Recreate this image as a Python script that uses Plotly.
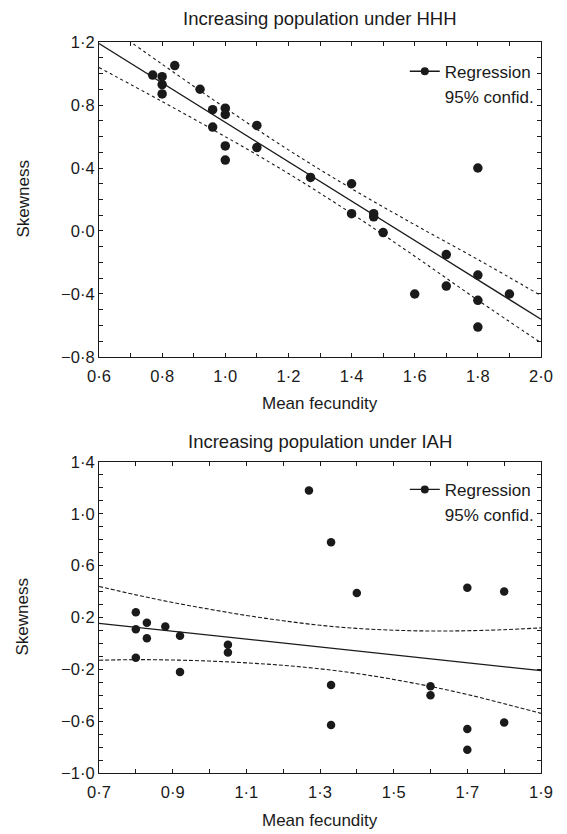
import plotly.graph_objects as go

# ---------------- Panel A: Increasing population under HHH ----------------
hhh_fecundity = [0.77, 0.80, 0.84, 0.80, 0.80, 0.92, 0.96, 1.00, 1.00, 0.96,
                 1.10, 1.00, 1.10, 1.00, 1.27, 1.40, 1.80, 1.40, 1.47, 1.47,
                 1.50, 1.70, 1.80, 1.60, 1.70, 1.80, 1.90, 1.80]
hhh_skewness = [0.99, 0.98, 1.05, 0.93, 0.87, 0.90, 0.77, 0.78, 0.74, 0.66,
                0.67, 0.54, 0.53, 0.45, 0.34, 0.30, 0.40, 0.11, 0.11, 0.09,
                -0.01, -0.15, -0.28, -0.40, -0.35, -0.44, -0.40, -0.61]
hhh_fit_x = [0.6, 2.0]
hhh_fit_y = [1.19, -0.56]
hhh_ci_x = [0.6, 0.8, 1.0, 1.2, 1.4, 1.6, 1.8, 2.0]
hhh_ci_upper = [1.342, 1.059, 0.781, 0.515, 0.269, 0.040, -0.181, -0.41]
hhh_ci_lower = [1.038, 0.822, 0.599, 0.365, 0.111, -0.160, -0.439, -0.71]

# ---------------- Panel B: Increasing population under IAH ----------------
iah_fecundity = [0.80, 0.80, 0.83, 0.83, 0.88, 0.80, 0.92, 0.92, 1.05, 1.05,
                 1.27, 1.33, 1.40, 1.70, 1.80, 1.33, 1.33, 1.60, 1.60, 1.70,
                 1.70, 1.80]
iah_skewness = [0.24, 0.11, 0.16, 0.04, 0.13, -0.11, 0.06, -0.22, -0.01, -0.07,
                1.18, 0.78, 0.39, 0.43, 0.40, -0.32, -0.63, -0.33, -0.40, -0.66,
                -0.82, -0.61]
iah_fit_x = [0.7, 1.9]
iah_fit_y = [0.155, -0.21]
iah_ci_x = [0.7, 0.8, 0.9, 1.0, 1.1, 1.2, 1.3, 1.4, 1.5, 1.6, 1.7, 1.8, 1.9]
iah_ci_upper = [0.440, 0.375, 0.316, 0.264, 0.216, 0.175, 0.140, 0.116, 0.102,
                0.096, 0.098, 0.106, 0.120]
iah_ci_lower = [-0.130, -0.125, -0.128, -0.136, -0.150, -0.169, -0.196, -0.232,
                -0.278, -0.332, -0.394, -0.465, -0.540]

# ---------------- Tick values and labels ----------------
hhh_x_ticks = [0.6, 0.7, 0.8, 0.9, 1.0, 1.1, 1.2, 1.3, 1.4, 1.5, 1.6, 1.7, 1.8, 1.9, 2.0]
hhh_x_labels = ["0·6", "", "0·8", "", "1·0", "", "1·2", "", "1·4", "", "1·6", "", "1·8", "", "2·0"]
hhh_y_ticks = [-0.8, -0.7, -0.6, -0.5, -0.4, -0.3, -0.2, -0.1, 0.0, 0.1, 0.2, 0.3,
               0.4, 0.5, 0.6, 0.7, 0.8, 0.9, 1.0, 1.1, 1.2]
hhh_y_labels = ["−0·8", "", "", "", "−0·4", "", "", "", "0·0", "", "", "",
                "0·4", "", "", "", "0·8", "", "", "", "1·2"]
iah_x_ticks = [0.7, 0.8, 0.9, 1.0, 1.1, 1.2, 1.3, 1.4, 1.5, 1.6, 1.7, 1.8, 1.9]
iah_x_labels = ["0·7", "", "0·9", "", "1·1", "", "1·3", "", "1·5", "", "1·7", "", "1·9"]
iah_y_ticks = [-1.0, -0.9, -0.8, -0.7, -0.6, -0.5, -0.4, -0.3, -0.2, -0.1, 0.0,
               0.1, 0.2, 0.3, 0.4, 0.5, 0.6, 0.7, 0.8, 0.9, 1.0, 1.1, 1.2, 1.3, 1.4]
iah_y_labels = ["−1·0", "", "", "", "−0·6", "", "", "", "−0·2", "", "", "",
                "0·2", "", "", "", "0·6", "", "", "", "1·0", "", "", "", "1·4"]

titles = ["Increasing population under HHH", "Increasing population under IAH"]
x_title = "Mean fecundity"
y_title = "Skewness"

FONT = "Liberation Sans, Arial, Helvetica, sans-serif"
INK = "#1a1a1a"

fig = go.Figure()


def add_panel(xa, ya, legend_name, fx, fy, lx, ly, cx, cu, cl, msize, dash):
    # confidence band lines
    for band in (cu, cl):
        fig.add_trace(go.Scatter(x=cx, y=band, mode="lines", line_shape="spline",
                                 line=dict(color=INK, width=1.1, dash=dash),
                                 xaxis=xa, yaxis=ya, showlegend=False, hoverinfo="skip"))
    # regression line
    fig.add_trace(go.Scatter(x=lx, y=ly, mode="lines",
                             line=dict(color=INK, width=1.3),
                             xaxis=xa, yaxis=ya, showlegend=False, hoverinfo="skip"))
    # data points
    fig.add_trace(go.Scatter(x=fx, y=fy, mode="markers",
                             marker=dict(color=INK, size=msize),
                             xaxis=xa, yaxis=ya, showlegend=False))
    # legend entries
    fig.add_trace(go.Scatter(x=[None], y=[None], mode="lines+markers", name="Regression",
                             line=dict(color=INK, width=1.3), marker=dict(color=INK, size=8),
                             xaxis=xa, yaxis=ya, legend=legend_name))
    fig.add_trace(go.Scatter(x=[None], y=[None], mode="lines", name="95% confid.",
                             line=dict(color="rgba(0,0,0,0)", width=0),
                             xaxis=xa, yaxis=ya, legend=legend_name))


add_panel("x", "y", "legend", hhh_fecundity, hhh_skewness, hhh_fit_x, hhh_fit_y,
          hhh_ci_x, hhh_ci_upper, hhh_ci_lower, 9.5, "dot")
add_panel("x2", "y2", "legend2", iah_fecundity, iah_skewness, iah_fit_x, iah_fit_y,
          iah_ci_x, iah_ci_upper, iah_ci_lower, 8.5, "4px,2px")

axis_common = dict(showline=True, linecolor=INK, linewidth=1.2, mirror="ticks",
                   ticks="inside", ticklen=4, tickwidth=1, tickcolor=INK,
                   showgrid=False, zeroline=False, tickmode="array",
                   tickfont=dict(family=FONT, size=16.5, color=INK))

top_dom = [0.5691, 1.0]
bot_dom = [0.0, 0.4254]

fig.update_layout(
    width=567, height=834,
    margin=dict(l=99, r=26, t=42, b=61),
    paper_bgcolor="white", plot_bgcolor="white",
    font=dict(family=FONT, color=INK),
    xaxis=dict(axis_common, domain=[0, 1], anchor="y", range=[0.6, 2.0],
               tickvals=hhh_x_ticks, ticktext=hhh_x_labels, ticklabelstandoff=4),
    yaxis=dict(axis_common, domain=top_dom, anchor="x", range=[-0.8, 1.2],
               tickvals=hhh_y_ticks, ticktext=hhh_y_labels),
    xaxis2=dict(axis_common, domain=[0, 1], anchor="y2", range=[0.7, 1.9],
                tickvals=iah_x_ticks, ticktext=iah_x_labels, ticklabelstandoff=4),
    yaxis2=dict(axis_common, domain=bot_dom, anchor="x2", range=[-1.0, 1.4],
                tickvals=iah_y_ticks, ticktext=iah_y_labels),
    legend=dict(x=0.995, xanchor="right", y=0.984, yanchor="top",
                bgcolor="rgba(0,0,0,0)", font=dict(family=FONT, size=17, color=INK),
                itemwidth=30, tracegroupgap=0),
    legend2=dict(x=0.995, xanchor="right", y=0.412, yanchor="top",
                 bgcolor="rgba(0,0,0,0)", font=dict(family=FONT, size=17, color=INK),
                 itemwidth=30, tracegroupgap=0),
    showlegend=True,
)

ann = []
for i, (xd, yd, tshift, xshift_t) in enumerate([("x domain", "y domain", 24, -47),
                                                 ("x2 domain", "y2 domain", 21, -47)]):
    ann.append(dict(text=titles[i], xref=xd, yref=yd, x=0.5, y=1, yanchor="middle",
                    xanchor="center", yshift=tshift, showarrow=False,
                    font=dict(family=FONT, size=18.5, color=INK)))
    ann.append(dict(text=x_title, xref=xd, yref=yd, x=0.5, y=0, yanchor="middle",
                    xanchor="center", yshift=xshift_t, showarrow=False,
                    font=dict(family=FONT, size=17, color=INK)))
    ann.append(dict(text=y_title, xref=xd, yref=yd, x=0, y=0.5, xanchor="center",
                    yanchor="middle", xshift=-76, textangle=-90, showarrow=False,
                    font=dict(family=FONT, size=17, color=INK)))
fig.update_layout(annotations=ann)

fig.write_html("out.html",
               config={"displayModeBar": False},
               post_script="document.body.style.margin='0px';document.body.style.padding='0px';")
